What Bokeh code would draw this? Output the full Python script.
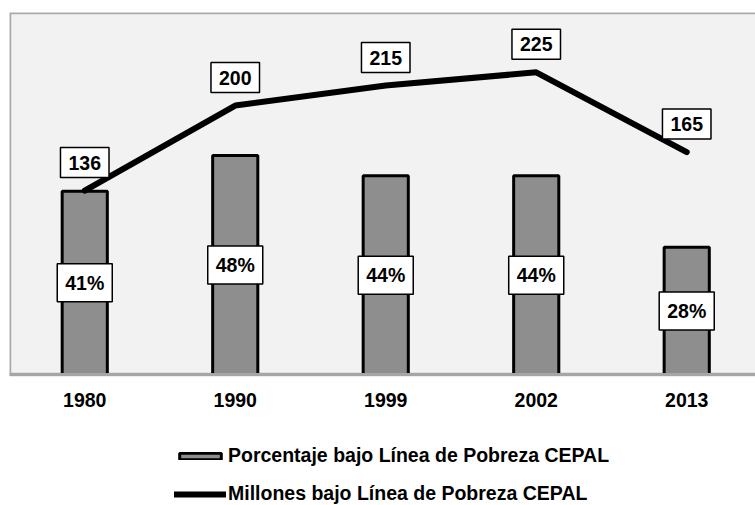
from bokeh.plotting import figure
from bokeh.models import (Range1d, FixedTicker, Label, Legend, LegendItem, BoxAnnotation,
                          ColumnDataSource)
from bokeh.embed import file_html
from bokeh.resources import INLINE

# ---- data ----
years = ["1980", "1990", "1999", "2002", "2013"]
pct = [40.5, 48.4, 43.9, 43.9, 28.1]          # % below CEPAL poverty line
millions = [136, 200, 215, 225, 165]           # millions below CEPAL poverty line
pct_name = "Porcentaje bajo Línea de Pobreza CEPAL"
mil_name = "Millones bajo Línea de Pobreza CEPAL"

FONT = "Liberation Sans"
FSIZE = "19.5px"
X_START, X_END = -0.5, 4.457
# frame runs to the bottom of the page; value 0 sits at the axis line
Y_START, Y_END = -28.95, 80
M_START, M_END = -101, 270

xs = list(range(len(years)))
src = ColumnDataSource(dict(x=xs, pct=pct, mil=millions))

p = figure(width=755, height=505, output_backend="svg", toolbar_location=None,
           x_range=Range1d(X_START, X_END), y_range=Range1d(Y_START, Y_END),
           y_axis_location=None, min_border_left=9, min_border_right=0,
           min_border_top=12, min_border_bottom=0)
p.extra_y_ranges = {"mil": Range1d(M_START, M_END)}
p.background_fill_color = "white"
p.border_fill_color = "white"
p.outline_line_color = None
p.grid.visible = False

# grey plot area with black border (left/top visible)
p.add_layout(BoxAnnotation(bottom=0, right=X_END + 1, fill_color="#f2f2f2", fill_alpha=1,
                           line_color="black", line_width=3.5, level="underlay"))

# x axis fixed at value 0
p.xaxis.fixed_location = 0
p.xaxis.ticker = FixedTicker(ticks=xs)
p.xaxis.major_label_overrides = {i: y for i, y in zip(xs, years)}
p.xaxis.major_tick_line_color = None
p.xaxis.minor_tick_line_color = None
p.xaxis.axis_line_color = "#a6a6a6"
p.xaxis.axis_line_width = 3
p.xaxis.major_label_text_font = FONT
p.xaxis.major_label_text_font_size = FSIZE
p.xaxis.major_label_text_font_style = "bold"
p.xaxis.major_label_text_color = "black"
p.xaxis.major_label_standoff = 12

bars = p.vbar(x="x", top="pct", width=0.3, source=src, fill_color="#8e8e8e",
              line_color="black", line_width=3)
line = p.line(x="x", y="mil", source=src, y_range_name="mil", line_color="black",
              line_width=6, line_cap="round", line_join="round")

for xi, v in zip(xs, pct):
    p.add_layout(Label(x=xi, y=v / 2, text=f"{int(v + 0.5)}%", text_align="center",
                       text_baseline="middle", text_font=FONT, text_font_style="bold",
                       text_font_size=FSIZE, text_color="black",
                       background_fill_color="white", border_line_color="black",
                       border_line_width=1.5, padding=(8, 8)))
for xi, m in zip(xs, millions):
    p.add_layout(Label(x=xi, y=m, y_range_name="mil", y_offset=28, text=str(m),
                       text_align="center", text_baseline="middle", text_font=FONT,
                       text_font_style="bold", text_font_size=FSIZE, text_color="black",
                       background_fill_color="white", border_line_color="black",
                       border_line_width=1.5, padding=(8, 8)))

legend = Legend(items=[LegendItem(label=pct_name, renderers=[bars]),
                       LegendItem(label=mil_name, renderers=[line])],
                location=(165, 0), orientation="vertical", glyph_width=52, glyph_height=8,
                label_standoff=2, spacing=15, padding=0, margin=0, border_line_color=None,
                background_fill_alpha=0, label_text_font=FONT, label_text_font_style="bold",
                label_text_font_size=FSIZE, label_text_color="black", label_height=21)
p.add_layout(legend, "center")

open("out.html", "w").write(file_html(p, INLINE))
